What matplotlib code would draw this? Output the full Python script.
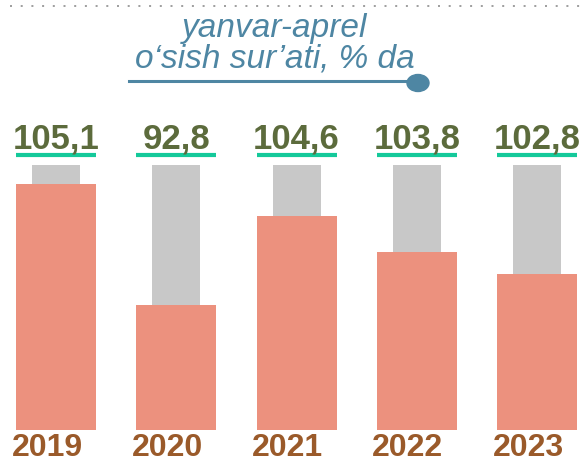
import numpy as np
import matplotlib.pyplot as plt
from matplotlib.lines import Line2D
from matplotlib.patches import Ellipse

years = ["2019", "2020", "2021", "2022", "2023"]
growth = [105.1, 92.8, 104.6, 103.8, 102.8]
growth_labels = ["105,1", "92,8", "104,6", "103,8", "102,8"]
# bar heights relative to the grey reference column (=100)
level = [92.8, 47.2, 80.8, 67.2, 58.9]
reference = [100, 100, 100, 100, 100]

W, H = 586, 463
fig = plt.figure(figsize=(W / 100, H / 100), dpi=100)
fig.patch.set_facecolor("white")

# axes: bottom of bars at 430px, reference top at 165px
ax = fig.add_axes([0, (H - 430) / H, 1, 430 / H])
ymax = 430 / 265 * 100
ax.set_ylim(0, ymax)
step = 120.25
ax.set_xlim(-56 / step, (W - 56) / step)
ax.axis("off")

x = np.arange(len(years))
ax.bar(x, reference, width=48 / step, color="#c8c8c8", zorder=1)
ax.bar(x, level, width=80 / step, color="#ec917e", zorder=2)

line_y = (430 - 155) / 265 * 100
text_y = (430 - 148) / 265 * 100
year_y = (430 - 462.5) / 265 * 100
for i, lab in enumerate(growth_labels):
    ax.plot([i - 40 / step, i + 40 / step], [line_y, line_y], color="#14c99a",
            lw=3, solid_capstyle="butt", zorder=3, clip_on=False)
    ax.text(i, text_y, lab, ha="center", va="baseline", fontsize=25,
            fontweight="bold", color="#5c6b3c", family="Liberation Sans", clip_on=False)
    ax.text(i - 9 / step, year_y, years[i], ha="center", va="bottom", fontsize=23,
            fontweight="bold", color="#9a5a2a", family="Liberation Sans", clip_on=False)

# title
tcol = "#4e86a3"
fig.text(275 / W, 1 - 37 / H, "yanvar-aprel", ha="center", va="baseline",
         fontsize=24, style="italic", color=tcol, family="Liberation Sans")
fig.text(275 / W, 1 - 67 / H, "o\u2018sish sur\u2019ati, % da", ha="center", va="baseline",
         fontsize=24, style="italic", color=tcol, family="Liberation Sans")
fig.add_artist(Line2D([129 / W, 412 / W], [1 - 81 / H, 1 - 81 / H], color=tcol,
                      lw=2.2, transform=fig.transFigure))
fig.add_artist(Ellipse((418 / W, 1 - 83 / H), 22 / W, 17 / H, color=tcol,
                       transform=fig.transFigure))

# dotted top border
fig.add_artist(Line2D([10 / W, 584 / W], [1 - 6 / H, 1 - 6 / H], color="#a0a0a0",
                      lw=1.44, linestyle=(0, (1, 4.35)), transform=fig.transFigure))

fig.savefig("out.png", dpi=100)
